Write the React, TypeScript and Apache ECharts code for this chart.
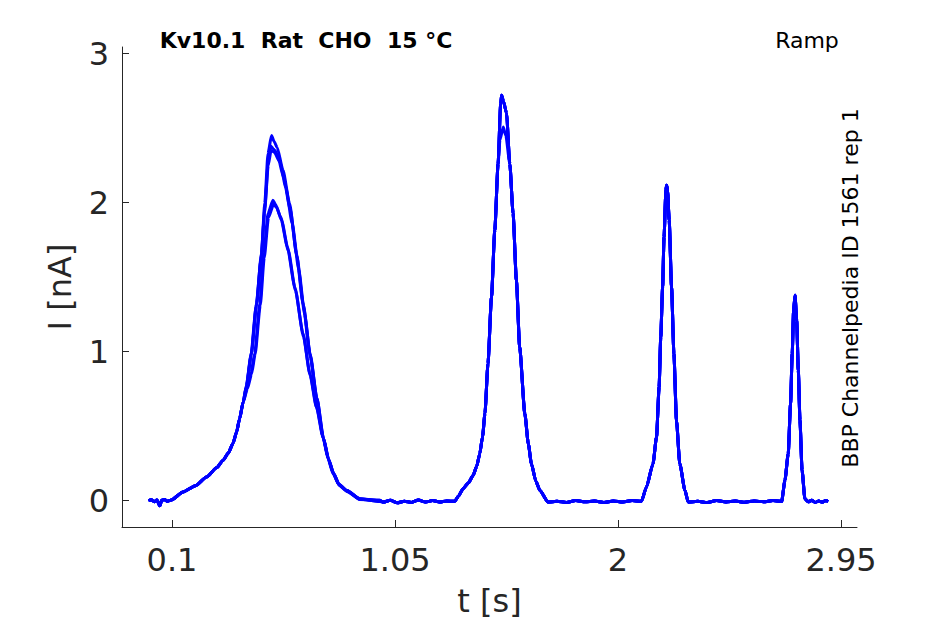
import React, { useEffect, useRef } from "react";
import * as echarts from "echarts";

// ---- tick labels ----
const xTicks = [0.1, 1.05, 2, 2.95];
const xTickLabels = ["0.1", "1.05", "2", "2.95"];
const yTicks = [0, 1, 2, 3];
const yTickLabels = ["0", "1", "2", "3"];

// ---- shared segments (t [s], I [nA]) ----
const baseStart = [
  [0.0, 0.0], [0.012, 0.006], [0.024, -0.008], [0.036, 0.004], [0.048, -0.035],
  [0.056, 0.002], [0.068, 0.008], [0.08, -0.004], [0.097, 0.004],
];
const riseFoot = [
  [0.147, 0.058], [0.2, 0.1], [0.247, 0.158], [0.29, 0.22], [0.317, 0.27], [0.34, 0.32], [0.36, 0.385],
  [0.375, 0.46], [0.388, 0.55], [0.403, 0.66],
];
// first ramp peak, per sweep
const peak1A = [
  [0.417, 0.775], [0.438, 0.99], [0.46, 1.324], [0.481, 1.66], [0.495, 1.995], [0.509, 2.33],
  [0.524, 2.45], [0.535, 2.41], [0.548, 2.37], [0.573, 2.217], [0.601, 1.993], [0.63, 1.66],
  [0.658, 1.324], [0.687, 0.989], [0.715, 0.695], [0.743, 0.427], [0.765, 0.28], [0.786, 0.181],
  [0.81, 0.11], [0.843, 0.069], [0.9, 0.013], [0.985, 0.0],
];
const peak1B = [
  [0.417, 0.765], [0.438, 0.98], [0.46, 1.31], [0.481, 1.64], [0.495, 1.96], [0.51, 2.28],
  [0.52, 2.38], [0.532, 2.36], [0.548, 2.33], [0.575, 2.17], [0.603, 1.96], [0.632, 1.64],
  [0.66, 1.31], [0.689, 0.98], [0.717, 0.69], [0.745, 0.42], [0.767, 0.275], [0.788, 0.18],
  [0.812, 0.105], [0.845, 0.065], [0.9, 0.01], [0.985, -0.004],
];
const peak1C = [
  [0.415, 0.755], [0.436, 0.97], [0.458, 1.30], [0.479, 1.62], [0.494, 1.93], [0.51, 2.25],
  [0.522, 2.35], [0.535, 2.34], [0.56, 2.27], [0.585, 2.1], [0.612, 1.86], [0.64, 1.55],
  [0.665, 1.25], [0.69, 0.96], [0.718, 0.68], [0.746, 0.415], [0.768, 0.27], [0.79, 0.175],
  [0.814, 0.1], [0.847, 0.06], [0.9, 0.008], [0.985, 0.003],
];
const peak1D = [
  [0.42, 0.76], [0.437, 0.86], [0.452, 0.987], [0.474, 1.322], [0.491, 1.658], [0.509, 1.926], [0.53, 2.015],
  [0.54, 1.99], [0.563, 1.903], [0.591, 1.705], [0.623, 1.434], [0.658, 1.123], [0.687, 0.852],
  [0.715, 0.628], [0.743, 0.427], [0.765, 0.285], [0.786, 0.19], [0.81, 0.112], [0.843, 0.07],
  [0.9, 0.012], [0.985, -0.006],
];
const peak1E = [
  [0.421, 0.75], [0.439, 0.85], [0.454, 0.98], [0.476, 1.31], [0.493, 1.63], [0.511, 1.9], [0.532, 1.985],
  [0.545, 1.97], [0.567, 1.88], [0.595, 1.68], [0.626, 1.41], [0.66, 1.1], [0.689, 0.84],
  [0.717, 0.62], [0.745, 0.42], [0.767, 0.28], [0.788, 0.185], [0.812, 0.108], [0.845, 0.068],
  [0.9, 0.01], [0.985, 0.002],
];
const baseMid1 = [
  [1.0, -0.01], [1.03, 0.002], [1.06, -0.015], [1.09, -0.004], [1.12, -0.012], [1.15, 0.004],
  [1.18, -0.01], [1.21, 0.0], [1.24, -0.009], [1.27, -0.002], [1.3045, -0.005],
];
const rise2 = [
  [1.32, 0.03], [1.34, 0.08], [1.363, 0.12], [1.383, 0.17], [1.398, 0.23], [1.411, 0.315], [1.423, 0.43],
  [1.433, 0.584], [1.446, 0.92], [1.461, 1.366], [1.475, 1.814], [1.489, 2.26],
];
const top2High = [[1.5, 2.66], [1.504, 2.72], [1.512, 2.68], [1.525, 2.6]];
const top2Low = [[1.497, 2.42], [1.511, 2.507], [1.522, 2.45]];
const fall2 = [
  [1.539, 2.26], [1.553, 1.926], [1.567, 1.478], [1.581, 1.03], [1.603, 0.584], [1.618, 0.38],
  [1.631, 0.248], [1.65, 0.13], [1.667, 0.069], [1.702, -0.01],
];
const baseMid2 = [
  [1.74, -0.004], [1.78, -0.012], [1.82, 0.0], [1.86, -0.008], [1.9, -0.003], [1.94, -0.013],
  [1.98, -0.002], [2.02, -0.009], [2.06, 0.0], [2.1, -0.004],
];
const peak3 = [
  [2.121, 0.09], [2.149, 0.248], [2.164, 0.427], [2.175, 0.762], [2.182, 1.098], [2.19, 1.434],
  [2.196, 1.769], [2.204, 2.083], [2.207, 2.116], [2.211, 2.08], [2.218, 1.88], [2.228, 1.434],
  [2.238, 0.987], [2.249, 0.539], [2.263, 0.248], [2.285, 0.069], [2.299, -0.01],
];
const baseMid3 = [
  [2.34, -0.005], [2.38, -0.012], [2.42, 0.0], [2.46, -0.009], [2.5, -0.003], [2.54, -0.011],
  [2.58, -0.002], [2.62, -0.008], [2.66, 0.0], [2.697, -0.006],
];
const peak4 = [
  [2.711, 0.136], [2.725, 0.315], [2.735, 0.651], [2.742, 0.987], [2.748, 1.277], [2.754, 1.378],
  [2.761, 1.21], [2.768, 0.874], [2.775, 0.539], [2.784, 0.203], [2.796, 0.013],
];
const baseEnd = [
  [2.81, -0.008], [2.825, 0.002], [2.84, -0.012], [2.855, -0.003], [2.87, -0.01], [2.885, 0.0], [2.895, -0.006],
];

const sweeps = [
  [peak1A, top2High],
  [peak1B, top2High],
  [peak1C, top2High],
  [peak1D, top2Low],
  [peak1E, top2High],
];

const FONT = "DejaVu Sans";
const INK = "#262626";

export default function App() {
  const ref = useRef<HTMLDivElement>(null);
  useEffect(() => {
    document.body.style.margin = "0";
    if (!ref.current) return;
    const chart = echarts.init(ref.current, undefined, { renderer: "svg" });
    const series = sweeps.map(([p1, top2]) => ({
      type: "line",
      showSymbol: false,
      silent: true,
      smooth: 0.2,
      smoothMonotone: "x",
      lineStyle: { color: "#0000ff", width: 3 },
      data: [
        ...baseStart, ...riseFoot, ...p1, ...baseMid1, ...rise2, ...top2, ...fall2,
        ...baseMid2, ...peak3, ...baseMid3, ...peak4, ...baseEnd,
      ],
    }));
    chart.setOption({
      animation: false,
      backgroundColor: "#ffffff",
      grid: { left: 122, top: 47, right: 88, bottom: 97, containLabel: false },
      xAxis: {
        type: "value",
        min: -0.113,
        max: 3.018,
        name: "t [s]",
        nameLocation: "middle",
        nameGap: 58,
        nameTextStyle: { fontSize: 32, color: INK, fontFamily: FONT },
        axisLine: { show: true, onZero: false, lineStyle: { color: INK, width: 1 } },
        axisTick: { show: true, inside: true, length: 7, lineStyle: { color: INK }, customValues: xTicks },
        axisLabel: {
          customValues: xTicks,
          fontSize: 32,
          color: INK,
          fontFamily: FONT,
          margin: 17,
          formatter: (v: number) => {
            const i = xTicks.findIndex((t) => Math.abs(t - v) < 1e-6);
            return i >= 0 ? xTickLabels[i] : "";
          },
        },
        splitLine: { show: false },
      },
      yAxis: {
        type: "value",
        min: -0.177,
        max: 3.044,
        name: "I [nA]",
        nameLocation: "middle",
        nameGap: 46,
        nameTextStyle: { fontSize: 32, color: INK, fontFamily: FONT },
        axisLine: { show: true, onZero: false, lineStyle: { color: INK, width: 1 } },
        axisTick: { show: true, inside: true, length: 7, lineStyle: { color: INK }, customValues: yTicks },
        axisLabel: {
          customValues: yTicks,
          fontSize: 32,
          color: INK,
          fontFamily: FONT,
          margin: 13,
          formatter: (v: number) => {
            const i = yTicks.findIndex((t) => Math.abs(t - v) < 1e-6);
            return i >= 0 ? yTickLabels[i] : "";
          },
        },
        splitLine: { show: false },
      },
      graphic: [
        {
          type: "text",
          x: 306,
          y: 40,
          style: {
            text: "Kv10.1  Rat  CHO  15 °C",
            fontSize: 22,
            fontWeight: "bold",
            fontFamily: FONT,
            fill: "#000000",
            textAlign: "center",
            textVerticalAlign: "middle",
          },
        },
        {
          type: "text",
          x: 807,
          y: 40,
          style: {
            text: "Ramp",
            fontSize: 22,
            fontFamily: FONT,
            fill: "#000000",
            textAlign: "center",
            textVerticalAlign: "middle",
          },
        },
        {
          type: "text",
          x: 850,
          y: 288,
          rotation: Math.PI / 2,
          style: {
            text: "BBP Channelpedia ID 1561 rep 1",
            fontSize: 22,
            fontFamily: FONT,
            fill: "#000000",
            textAlign: "center",
            textVerticalAlign: "middle",
          },
        },
      ],
      series,
    });
    return () => chart.dispose();
  }, []);
  return <div ref={ref} style={{ width: 945, height: 624 }} />;
}
